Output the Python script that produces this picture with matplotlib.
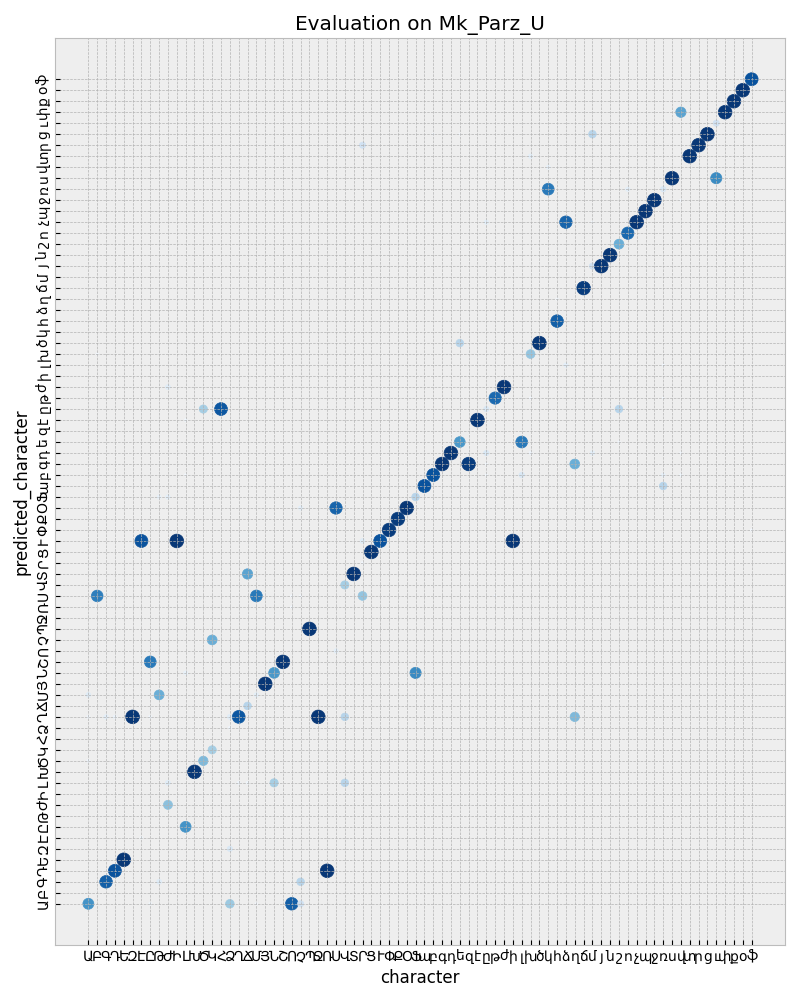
import matplotlib
matplotlib.use("Agg")
import matplotlib.pyplot as plt
import numpy as np

plt.style.use("bmh")

characters = list("ԱԲԳԴԵԶԷԸԹԺԻԼԽԾԿՀՁՂՃՄՅՆՇՈՉՊՋՌՍՎՏՐՑՒՓՔՕՖ"
                  "աբգդեզէըթժիլխծկհձղճմյնշոչպջռսվտրցւփքօֆ")

# index of true character (x) and predicted character (y), and normalized frequency
true_idx = [0, 0, 0, 0, 1, 1, 2, 2, 3, 3, 4, 5, 6, 6, 7, 7, 7, 8, 8, 8,
            9, 9, 9, 9, 10, 11, 11, 11, 11, 12, 13, 13, 14, 14, 15, 16, 16, 16, 16, 16,
            17, 17, 18, 18, 18, 19, 19, 19, 20, 21, 21, 22, 23, 23, 23, 24, 24, 24, 24, 25,
            26, 27, 28, 28, 29, 29, 29, 30, 31, 31, 31, 31, 32, 33, 34, 35, 36, 37, 37, 38,
            39, 39, 40, 41, 42, 42, 42, 43, 44, 45, 45, 45, 45, 45, 46, 46, 47, 48, 49, 49,
            50, 50, 50, 50, 51, 52, 52, 53, 53, 54, 54, 55, 55, 56, 57, 57, 57, 57, 58, 59,
            60, 60, 60, 61, 61, 62, 63, 64, 65, 65, 65, 65, 65, 66, 67, 67, 67, 67, 68, 69,
            70, 71, 71, 72, 73, 74, 75, 75]
pred_idx = [0, 13, 17, 19, 28, 50, 2, 17, 3, 17, 4, 17, 6, 33, 0, 17, 22, 2, 19, 37,
            9, 11, 37, 47, 33, 7, 21, 39, 44, 12, 13, 45, 14, 24, 45, 0, 5, 16, 17, 43,
            11, 17, 11, 18, 30, 0, 19, 28, 20, 11, 21, 22, 0, 27, 28, 0, 2, 28, 36, 25,
            17, 3, 23, 36, 11, 17, 29, 30, 28, 31, 33, 69, 32, 33, 34, 35, 36, 21, 37, 38,
            39, 70, 40, 41, 42, 51, 70, 40, 44, 39, 40, 41, 45, 62, 28, 46, 47, 33, 39, 42,
            41, 46, 50, 68, 51, 65, 67, 53, 55, 49, 62, 17, 40, 56, 41, 58, 62, 70, 58, 59,
            42, 45, 60, 61, 65, 62, 63, 64, 38, 39, 46, 49, 65, 66, 39, 41, 64, 72, 68, 69,
            70, 66, 71, 72, 73, 74, 34, 75]
value = [0.62, 0.05, 0.05, 0.12, 0.70, 0.03, 0.82, 0.10, 0.87, 0.06, 0.97, 0.97, 0.04, 0.87, 0.04, 0.05, 0.72, 0.12, 0.50, 0.08,
         0.42, 0.12, 0.10, 0.12, 0.97, 0.62, 0.08, 0.03, 0.04, 0.97, 0.45, 0.35, 0.35, 0.50, 0.85, 0.38, 0.15, 0.05, 0.12, 0.03,
         0.05, 0.85, 0.04, 0.30, 0.55, 0.03, 0.10, 0.72, 0.97, 0.35, 0.60, 0.97, 0.82, 0.03, 0.03, 0.20, 0.30, 0.03, 0.10, 0.97,
         0.97, 0.97, 0.10, 0.80, 0.30, 0.30, 0.35, 0.97, 0.40, 0.03, 0.12, 0.20, 0.97, 0.87, 0.95, 0.95, 0.97, 0.65, 0.30, 0.87,
         0.87, 0.02, 0.97, 0.97, 0.60, 0.30, 0.02, 0.95, 0.97, 0.03, 0.03, 0.15, 0.15, 0.10, 0.02, 0.78, 0.97, 0.97, 0.15, 0.72,
         0.05, 0.03, 0.40, 0.10, 0.97, 0.72, 0.08, 0.82, 0.03, 0.10, 0.80, 0.45, 0.50, 0.95, 0.10, 0.20, 0.02, 0.30, 0.97, 0.97,
         0.03, 0.30, 0.50, 0.78, 0.10, 0.97, 0.97, 0.97, 0.30, 0.08, 0.02, 0.03, 0.15, 0.97, 0.04, 0.03, 0.03, 0.55, 0.97, 0.97,
         0.97, 0.65, 0.20, 0.97, 0.97, 0.97, 0.03, 0.87]

fig = plt.figure(figsize=(8, 10), dpi=100)
ax = fig.add_axes([0.069, 0.055, 0.912, 0.907])

v = np.array(value)
ax.scatter(true_idx, pred_idx, s=v * 100, c=v, cmap="Blues", vmin=0, vmax=1)

n = len(characters)
ax.set_xticks(range(n))
ax.set_xticklabels(characters)
ax.set_yticks(range(n))
ax.set_yticklabels(characters, rotation=90, va="center")
ax.set_xlim(-3.75, n - 1 + 3.75)
ax.set_ylim(-3.75, n - 1 + 3.75)
ax.set_title("Evaluation on Mk_Parz_U")
ax.set_xlabel("character")
ax.set_ylabel("predicted_character")

fig.savefig("out.png", dpi=100)
